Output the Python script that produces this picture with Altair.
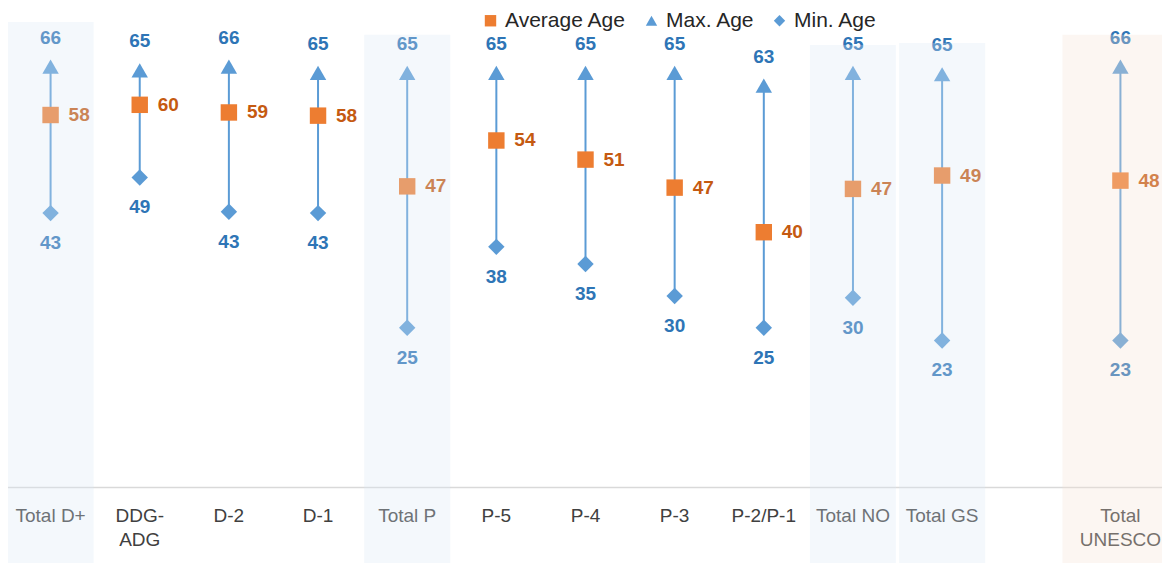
import altair as alt
import pandas as pd

# ---- data ----
axis_categories = ["Total D+", "DDG-ADG", "D-2", "D-1", "Total P", "P-5", "P-4",
                   "P-3", "P-2/P-1", "Total NO", "Total GS", " ", "Total UNESCO"]
categories = ["Total D+", "DDG-ADG", "D-2", "D-1", "Total P", "P-5", "P-4",
              "P-3", "P-2/P-1", "Total NO", "Total GS", "Total UNESCO"]
avg_age = [58.4, 60.0, 58.8, 58.3, 47.2, 54.4, 51.4, 47.0, 40.0, 46.8, 48.9, 48.1]
max_age = [66, 65.4, 66, 65, 65, 65, 65, 65, 63, 65, 64.8, 66]
min_age = [43, 48.6, 43.2, 43, 25, 37.7, 35, 30, 25, 29.7, 23, 23]

series_names = ["Average Age", "Max. Age", "Min. Age"]

box_cats = ["Total D+", "Total P", "Total NO", "Total GS"]
box_tops = [73.0, 71.0, 69.4, 69.7]
box_bottoms = [-12.6, -14.5, -14.5, -14.5]
unesco_box_cat = ["Total UNESCO"]
unesco_box_top = [71.0]
unesco_box_bottom = [-14.5]

# ---- tables ----
wide = pd.DataFrame({"cat": categories, "avg": avg_age, "max": max_age, "min": min_age})
long_rows = []
for c, a, mx, mn in zip(categories, avg_age, max_age, min_age):
    long_rows.append({"cat": c, "series": "Max. Age", "value": mx})
    long_rows.append({"cat": c, "series": "Min. Age", "value": mn})
    long_rows.append({"cat": c, "series": "Average Age", "value": a})
long = pd.DataFrame(long_rows)
boxes = pd.DataFrame({"cat": box_cats, "top": box_tops, "bottom": box_bottoms})
ubox = pd.DataFrame({"cat": unesco_box_cat, "top": unesco_box_top, "bottom": unesco_box_bottom})

FONT = "Liberation Sans"
BLUE = "#5B9BD5"
ORANGE = "#ED7D31"

label_expr = ("datum.label == 'DDG-ADG' ? ['DDG-', 'ADG'] : "
              "datum.label == 'Total UNESCO' ? ['Total', 'UNESCO'] : datum.label")

x_enc = alt.X("cat:N",
              scale=alt.Scale(domain=axis_categories, range=[-2, 1157],
                              paddingInner=0, paddingOuter=0),
              sort=axis_categories,
              axis=alt.Axis(title=None, labelAngle=0, ticks=False, grid=False,
                            domainColor="#D9D9D9", domainWidth=1.5,
                            labelPadding=19, labelFont=FONT, labelFontSize=19,
                            labelColor="#404040", labelLineHeight=24,
                            labelExpr=label_expr))
y_scale = alt.Scale(domain=[0, 75.2], nice=False, zero=False)

base_w = alt.Chart(wide)

rules = base_w.mark_rule(color=BLUE, strokeWidth=2).encode(
    x=x_enc,
    y=alt.Y("min:Q", scale=y_scale, axis=None),
    y2="max:Q",
)

points = alt.Chart(long).mark_point(filled=True, opacity=1, size=270).encode(
    x=x_enc,
    y=alt.Y("value:Q", scale=y_scale, axis=None),
    color=alt.Color("series:N",
                    scale=alt.Scale(domain=series_names, range=[ORANGE, BLUE, BLUE]),
                    legend=alt.Legend(title=None)),
    shape=alt.Shape("series:N",
                    scale=alt.Scale(domain=series_names,
                                    range=["square", "triangle-up", "diamond"]),
                    legend=alt.Legend(title=None)),
)

max_text = base_w.mark_text(font=FONT, fontSize=19, fontWeight="bold", color="#2E75B6",
                            baseline="middle", dy=-29).encode(
    x=x_enc, y=alt.Y("max:Q", scale=y_scale, axis=None),
    text=alt.Text("max:Q", format=".0f"))

min_text = base_w.mark_text(font=FONT, fontSize=19, fontWeight="bold", color="#2E75B6",
                            baseline="middle", dy=30).encode(
    x=x_enc, y=alt.Y("min:Q", scale=y_scale, axis=None),
    text=alt.Text("min:Q", format=".0f"))

avg_text = base_w.mark_text(font=FONT, fontSize=19, fontWeight="bold", color="#C55A11",
                            baseline="middle", align="left", dx=18).encode(
    x=x_enc, y=alt.Y("avg:Q", scale=y_scale, axis=None),
    text=alt.Text("avg:Q", format=".0f"))

blue_boxes = alt.Chart(boxes).mark_bar(color="#DCE8F5", opacity=0.3, width=86).encode(
    x=x_enc,
    y=alt.Y("top:Q", scale=y_scale, axis=None),
    y2="bottom:Q",
)

orange_box = alt.Chart(ubox).mark_bar(color="#F5E2D5", opacity=0.3, width=116).encode(
    x=x_enc,
    y=alt.Y("top:Q", scale=y_scale, axis=None),
    y2="bottom:Q",
)

chart = alt.layer(rules, points, max_text, min_text, avg_text, blue_boxes, orange_box).properties(
    width=1154, height=479,
    padding={"left": 0, "top": 0, "right": 0, "bottom": 76},
    autosize=alt.AutoSizeParams(type="none"),
    background="white",
).configure_view(stroke=None).configure_legend(
    orient="none", direction="horizontal", legendX=472, legendY=2,
    labelFont=FONT, labelFontSize=21, labelColor="#262626", symbolSize=130,
    symbolStrokeWidth=0, columnPadding=14, labelOffset=4, padding=0,
)

chart.save("out.html", embed_options={"renderer": "svg", "actions": False})
